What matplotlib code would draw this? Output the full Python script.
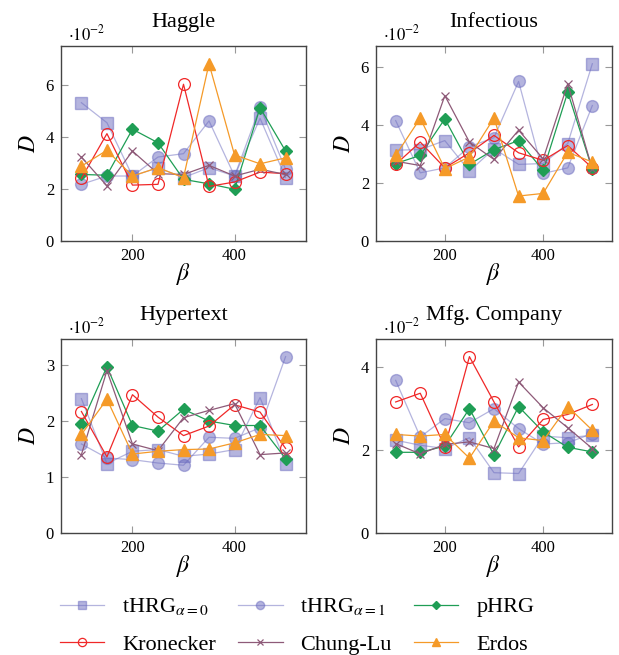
import numpy as np
import matplotlib
matplotlib.use("Agg")
import matplotlib.pyplot as plt

plt.rcParams['font.family'] = ['Liberation Serif', 'DejaVu Serif']
plt.rcParams['mathtext.fontset'] = 'stix'

beta = [100, 150, 200, 250, 300, 350, 400, 450, 500]
panels = ["Haggle", "Infectious", "Hypertext", "Mfg. Company"]
yticks = [[0, 2, 4, 6], [0, 2, 4, 6], [0, 1, 2, 3], [0, 2, 4]]

# values of D in units of 1e-2, one list per panel
thrg0 = [
    [5.32, 4.55, 2.50, 2.82, 2.44, 2.82, 2.50, 4.72, 2.44],
    [3.13, 3.15, 3.46, 2.41, 3.18, 2.64, 2.67, 3.36, 6.11],
    [2.40, 1.24, 1.46, 1.49, 1.37, 1.41, 1.49, 2.42, 1.24],
    [2.23, 2.11, 2.03, 2.29, 1.45, 1.43, 2.33, 2.29, 2.35],
]
thrg1 = [
    [2.18, 2.50, 2.50, 3.23, 3.36, 4.62, 2.50, 5.15, 2.76],
    [4.15, 2.35, 2.52, 3.25, 3.56, 5.50, 2.33, 2.52, 4.67],
    [1.59, 1.34, 1.31, 1.25, 1.21, 1.71, 1.69, 1.88, 3.15],
    [3.67, 2.31, 2.75, 2.65, 2.99, 2.51, 2.14, 2.17, 2.39],
]
phrg = [
    [2.56, 2.53, 4.30, 3.78, 2.37, 2.20, 1.99, 5.13, 3.46],
    [2.67, 2.95, 4.21, 2.64, 3.15, 3.46, 2.43, 5.13, 2.47],
    [1.94, 2.97, 1.92, 1.82, 2.21, 2.00, 1.92, 1.92, 1.33],
    [1.94, 1.94, 2.09, 2.99, 1.87, 3.04, 2.43, 2.06, 1.95],
]
kronecker = [
    [2.41, 4.13, 2.15, 2.18, 6.03, 2.10, 2.27, 2.65, 2.59],
    [2.64, 3.41, 2.52, 3.04, 3.64, 3.04, 2.78, 3.29, 2.52],
    [2.17, 1.36, 2.47, 2.07, 1.74, 1.91, 2.29, 2.16, 1.51],
    [3.15, 3.36, 2.07, 4.24, 3.15, 2.07, 2.73, 2.85, 3.09],
]
chunglu = [
    [3.23, 2.12, 3.46, 2.59, 2.56, 2.91, 2.50, 2.76, 2.56],
    [2.75, 2.60, 5.01, 3.41, 2.81, 3.82, 2.83, 5.42, 2.47],
    [1.40, 2.90, 1.59, 1.47, 2.06, 2.19, 2.31, 1.40, 1.43],
    [2.15, 1.90, 2.13, 2.19, 2.03, 3.63, 3.01, 2.53, 2.03],
]
erdos = [
    [2.88, 3.49, 2.50, 2.82, 2.44, 6.82, 3.31, 2.97, 3.20],
    [2.95, 4.23, 2.49, 2.90, 4.24, 1.55, 1.64, 3.06, 2.72],
    [1.76, 2.39, 1.41, 1.46, 1.49, 1.50, 1.61, 1.76, 1.74],
    [2.37, 2.33, 2.37, 1.80, 2.69, 2.29, 2.22, 3.04, 2.47],
]

lav = (0.42, 0.42, 0.75)
series = [
    (thrg0, r'tHRG$_{\alpha=0}$', dict(color=lav, marker='s', ms=8.5, alpha=0.5, lw=0.9)),
    (thrg1, r'tHRG$_{\alpha=1}$', dict(color=lav, marker='o', ms=8.5, alpha=0.5, lw=0.9)),
    (phrg, 'pHRG', dict(color='#1f9e55', marker='D', ms=6, lw=0.9)),
    (kronecker, 'Kronecker', dict(color='#f02828', marker='o', ms=8.5, mfc='none', mew=0.9, lw=0.9)),
    (chunglu, 'Chung-Lu', dict(color='#8e5a78', marker='x', ms=6, mew=0.9, lw=0.9)),
    (erdos, 'Erdos', dict(color='#f59a28', marker='^', ms=8, lw=0.9)),
]

fig = plt.figure(figsize=(6.19, 6.55), dpi=100)
W, H = 619, 655
boxes = [(61, 46, 306, 241), (376, 46, 612, 241), (61, 339, 306, 533), (376, 339, 612, 533)]

handles = []
for p, name in enumerate(panels):
    x0, y0, x1, y1 = boxes[p]
    ax = fig.add_axes([x0 / W, 1 - y1 / H, (x1 - x0) / W, (y1 - y0) / H])
    top = 0
    for data, label, style in series:
        h, = ax.plot(beta, data[p], label=label, **style)
        top = max(top, max(data[p]))
        if p == 0:
            handles.append(h)
    ax.set_xlim(60, 540)
    ax.set_ylim(0, top * 1.1)
    ax.set_xticks([200, 400])
    ax.set_yticks(yticks[p])
    ax.tick_params(direction='in', top=True, right=True, labelsize=12,
                   color='#999999', length=5, width=0.8, pad=5)
    for s in ax.spines.values():
        s.set_color('#444444')
        s.set_linewidth(1.0)
    ax.set_title(name, fontsize=16, pad=14)
    ax.text(0.03, 1.03, r'$\cdot 10^{-2}$', transform=ax.transAxes, fontsize=12)
    ax.set_xlabel(r'$\beta$', fontsize=17, labelpad=-2)
    ax.set_ylabel(r'$D$', fontsize=17, labelpad=4)

# legend is filled column by column, so interleave to get rows
order = [0, 3, 1, 4, 2, 5]
fig.legend(handles=[handles[i] for i in order], loc='lower center', ncol=3, frameon=False,
           fontsize=16, handlelength=2.0, columnspacing=1.0, handletextpad=0.8,
           labelspacing=0.75, markerscale=0.7, bbox_to_anchor=(0.48, -0.03))

fig.savefig("out.png", dpi=100)
